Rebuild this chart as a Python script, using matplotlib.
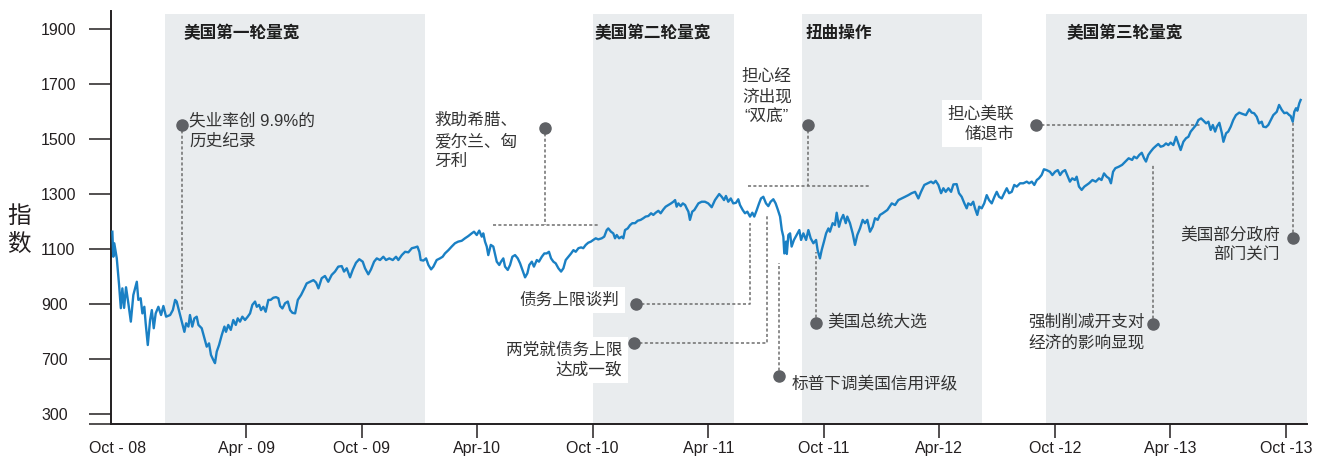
import numpy as np
import matplotlib.pyplot as plt

plt.rcParams['font.family'] = ['Liberation Sans', 'Noto Sans CJK SC']

##############################################
# Index level (x = months after Oct 2008)
months = [
    -0.94, -0.89, -0.84, -0.71, -0.59, -0.50, -0.42, -0.33, -0.23, -0.11, 0.02, 0.15, 0.33, 0.41, 0.53,
    0.62, 0.72, 0.79, 0.90, 1.02, 1.11, 1.21, 1.31, 1.45, 1.59, 1.71, 1.85, 2.06, 2.20, 2.32, 2.40,
    2.58, 2.69, 2.80, 2.89, 3.01, 3.09, 3.21, 3.32, 3.44, 3.53, 3.70, 3.82, 3.96, 4.08, 4.18, 4.30,
    4.39, 4.48, 4.60, 4.74, 4.88, 4.96, 5.08, 5.21, 5.34, 5.47, 5.57, 5.69, 5.81, 5.95, 6.09, 6.21,
    6.33, 6.47, 6.56, 6.68, 6.78, 6.90, 7.02, 7.16, 7.28, 7.42, 7.56, 7.68, 7.77, 7.89, 8.03, 8.17,
    8.29, 8.41, 8.55, 8.69, 8.86, 9.03,
    9.15, 9.33, 9.50, 9.64, 9.76, 9.93, 10.10, 10.27, 10.45, 10.62, 10.79, 10.97, 11.09, 11.23, 11.40,
    11.54, 11.71, 11.88, 12.06, 12.18, 12.35, 12.49, 12.65, 12.79, 12.96, 13.13, 13.27, 13.44, 13.62,
    13.79, 13.91, 14.09, 14.26, 14.43, 14.61, 14.78, 14.90, 15.00, 15.07, 15.21, 15.35, 15.47, 15.61,
    15.73, 15.90, 16.07, 16.21, 16.33, 16.51, 16.68, 16.85, 17.02, 17.20, 17.37, 17.54, 17.72, 17.84,
    17.98, 18.11, 18.24, 18.32, 18.41, 18.50, 18.58, 18.71, 18.84, 19.02, 19.15,
    19.24, 19.36, 19.45, 19.59, 19.71, 19.83, 19.97, 20.11, 20.23, 20.35, 20.49, 20.61, 20.71, 20.84,
    20.95, 21.10, 21.21, 21.36, 21.49, 21.61, 21.73, 21.84, 21.96, 22.08, 22.22, 22.36, 22.48, 22.60,
    22.74, 22.88, 23.00, 23.12, 23.26, 23.40, 23.51, 23.64, 23.77, 23.91, 24.03, 24.16, 24.29, 24.47,
    24.60, 24.73, 24.81, 24.95, 25.07, 25.16, 25.25, 25.37, 25.51, 25.59, 25.68, 25.82, 25.94, 26.06,
    26.20, 26.34, 26.49, 26.63, 26.75, 26.89, 27.03, 27.15, 27.27, 27.41, 27.53, 27.67, 27.79, 27.93,
    28.07, 28.19, 28.28, 28.36, 28.45, 28.57, 28.68, 28.80, 28.88, 28.97, 29.05, 29.17, 29.28,
    29.49, 29.66, 29.83, 30.00, 30.18, 30.35, 30.47, 30.57, 30.70, 30.82, 30.92, 31.04, 31.17, 31.30,
    31.44, 31.56, 31.65, 31.79, 31.91, 32.03, 32.17, 32.29, 32.39, 32.52, 32.64, 32.74, 32.86, 33.00,
    33.12, 33.24, 33.38, 33.50, 33.61, 33.73, 33.82, 33.90, 33.95, 34.04, 34.08, 34.16, 34.25, 34.33,
    34.45, 34.59, 34.73, 34.82, 34.94, 35.08, 35.20, 35.32, 35.46, 35.60, 35.68, 35.80, 35.89, 36.01,
    36.12, 36.24, 36.32, 36.46, 36.58, 36.67, 36.79, 36.89, 37.01, 37.14, 37.22, 37.36, 37.50, 37.62,
    37.74, 37.88, 38.02, 38.14, 38.26, 38.40, 38.54, 38.66, 38.80, 38.92, 39.06, 39.18, 39.30,
    39.53, 39.70, 39.87, 40.05, 40.22, 40.39, 40.56, 40.74, 40.91, 41.05, 41.22, 41.40, 41.57, 41.69,
    41.81, 41.95, 42.09, 42.21, 42.33, 42.47, 42.61, 42.73, 42.90, 43.02, 43.16, 43.30, 43.42, 43.50,
    43.64, 43.76, 43.85, 43.97, 44.07, 44.20, 44.33, 44.46, 44.58, 44.72, 44.86, 44.98, 45.10, 45.24,
    45.37, 45.50, 45.62, 45.76, 45.89, 46.02, 46.19, 46.36, 46.54, 46.66, 46.80, 46.93, 47.06, 47.17,
    47.31, 47.43, 47.57, 47.74, 47.87, 48.01, 48.15, 48.27, 48.39, 48.53, 48.67, 48.78, 48.90, 49.04,
    49.13, 49.25, 49.39, 49.53,
    49.77, 49.95, 50.12, 50.29, 50.42, 50.55, 50.69, 50.81, 50.91, 51.02, 51.14, 51.31, 51.49, 51.66,
    51.83, 52.01, 52.11, 52.25, 52.38, 52.51, 52.63, 52.73, 52.85, 52.97, 53.11, 53.25, 53.37, 53.49,
    53.63, 53.77, 53.89, 54.01, 54.15, 54.29, 54.41, 54.53, 54.67, 54.81, 54.93, 55.05, 55.19, 55.33,
    55.45, 55.59, 55.71, 55.85, 55.97, 56.09, 56.20, 56.32, 56.41, 56.54, 56.67, 56.75, 56.89, 57.00,
    57.13, 57.26, 57.40, 57.57, 57.75, 57.92, 58.09, 58.22, 58.34, 58.48, 58.60, 58.74, 58.82, 58.96,
    59.08, 59.21, 59.34, 59.52, 59.64, 59.78, 59.91, 60.04, 60.17, 60.24, 60.35, 60.43, 60.52, 60.59,
    60.69, 60.76,
]
index_level = [
    1164, 1073, 1122, 1067, 970, 886, 958, 887, 962, 904, 837, 934, 982, 916, 922,
    867, 891, 831, 752, 843, 879, 813, 867, 891, 861, 894, 855, 861, 879, 916, 910,
    861, 831, 800, 831, 819, 861, 819, 849, 855, 825, 813, 782, 746, 758, 716, 698,
    686, 728, 752, 788, 819, 800, 825, 807, 843, 825, 849, 837, 855, 843, 855, 867,
    898, 910, 891, 898, 879, 891, 873, 916, 916, 924, 926, 922, 894, 885, 904, 910,
    879, 869, 867, 916, 934, 958,
    976, 982, 988, 979, 958, 995, 1003, 982, 1007, 1019, 1037, 1039, 1019, 1031, 998,
    1025, 1051, 1064, 1055, 1031, 1009, 1027, 1055, 1067, 1061, 1073, 1061, 1067, 1061,
    1073, 1061, 1079, 1091, 1089, 1104, 1107, 1110, 1091, 1061, 1059, 1067, 1043, 1027,
    1037, 1061, 1067, 1073, 1085, 1097, 1110, 1122, 1128, 1131, 1140, 1148, 1158, 1164,
    1152, 1168, 1146, 1158, 1128, 1110, 1079, 1116, 1110, 1055, 1043,
    1055, 1067, 1037, 1025, 1043, 1073, 1079, 1067, 1049, 1025, 998, 1013, 1043, 1055,
    1037, 1061, 1055, 1073, 1085, 1085, 1091, 1067, 1055, 1049, 1031, 1019, 1031, 1061,
    1073, 1085, 1097, 1091, 1104, 1107, 1104, 1116, 1124, 1128, 1134, 1140, 1136, 1140,
    1146, 1170, 1176, 1164, 1158, 1140, 1152, 1140, 1146, 1140, 1170, 1176, 1188, 1195,
    1195, 1204, 1207, 1213, 1219, 1221, 1231, 1225, 1233, 1240, 1231, 1245, 1255, 1261,
    1267, 1273, 1279, 1255, 1267, 1257, 1267, 1261, 1249, 1237, 1207, 1237, 1243,
    1267, 1273, 1273, 1267, 1253, 1279, 1291, 1301, 1291, 1279, 1294, 1273, 1285, 1267,
    1269, 1282, 1261, 1243, 1231, 1237, 1219, 1233, 1219, 1243, 1267, 1285, 1291, 1267,
    1257, 1273, 1282, 1267, 1245, 1219, 1170, 1146, 1085, 1128, 1083, 1152, 1158, 1110,
    1134, 1152, 1170, 1134, 1158, 1134, 1170, 1140, 1122, 1134, 1097, 1067, 1097, 1128,
    1158, 1176, 1164, 1195, 1188, 1233, 1182, 1207, 1225, 1195, 1219, 1195, 1158, 1116,
    1152, 1176, 1207, 1195, 1207, 1164, 1182, 1213, 1207, 1225, 1231, 1237, 1243,
    1267, 1261, 1279, 1285, 1291, 1297, 1304, 1309, 1285, 1309, 1334, 1340, 1346, 1340,
    1349, 1334, 1304, 1322, 1309, 1322, 1309, 1336, 1337, 1304, 1291, 1267, 1249, 1267,
    1261, 1273, 1249, 1225, 1255, 1249, 1267, 1297, 1279, 1267, 1291, 1309, 1291, 1285,
    1304, 1322, 1304, 1309, 1334, 1328, 1340, 1340, 1346, 1340, 1346, 1334, 1352, 1358,
    1370, 1391, 1388, 1382, 1370, 1382, 1388, 1370, 1382, 1388, 1364, 1346, 1358, 1352,
    1364, 1328, 1316, 1328,
    1340, 1352, 1346, 1358, 1352, 1376, 1364, 1358, 1340, 1382, 1395, 1400, 1407, 1419,
    1431, 1425, 1437, 1431, 1443, 1451, 1431, 1419, 1443, 1455, 1467, 1476, 1483, 1473,
    1476, 1485, 1479, 1488, 1479, 1509, 1485, 1461, 1491, 1504, 1509, 1528, 1540, 1552,
    1570, 1576, 1568, 1558, 1564, 1534, 1552, 1528, 1546, 1560, 1522, 1491, 1522, 1528,
    1546, 1570, 1588, 1597, 1592, 1588, 1609, 1597, 1595, 1582, 1558, 1564, 1546, 1544,
    1552, 1570, 1588, 1600, 1625, 1607, 1595, 1597, 1588, 1585, 1564, 1600, 1613, 1604,
    1631, 1643,
]

tick_months = [-0.69, 6, 12, 18, 24, 30, 36, 42, 48, 54, 60]
tick_labels = ['Oct - 08', 'Apr - 09', 'Oct - 09', 'Apr-10', 'Oct -10', 'Apr -11',
               'Oct -11', 'Apr-12', 'Oct -12', 'Apr -13', 'Oct -13']
y_ticks = [500, 700, 900, 1100, 1300, 1500, 1700, 1900]
y_tick_labels = ['300', '700', '900', '1100', '1300', '1500', '1700', '1900']

# policy periods (shaded) and their titles
periods = [(1.80, 15.30), (24.02, 31.34), (34.87, 44.22), (47.54, 61.09)]
period_titles = ['美国第一轮量宽', '美国第二轮量宽', '扭曲操作', '美国第三轮量宽']
period_title_x = [2.73, 24.07, 35.03, 48.58]

# events: text, dot position, connector path, text position, alignment, white box
events = [
    ('失业率创 9.9%的\n历史纪录', (2.66, 1552), [(2.66, 879)], (3.05, 1530), 'left', 'left', False),
    ('救助希腊、\n爱尔兰、匈\n牙利', (21.53, 1541), [(21.53, 1188)], (15.8, 1494), 'left', 'left', False),
    ('担心经\n济出现\n“双底”', (35.18, 1552), [(35.18, 1330)], (31.75, 1654), 'left', 'center', False),
    ('债务上限谈判', (26.26, 901), [(32.17, 901), (32.17, 1196)], (25.37, 916), 'right', 'right', True),
    ('两党就债务上限\n达成一致', (26.15, 759), [(33.05, 759), (33.05, 1225)], (25.53, 697), 'right', 'right', True),
    ('标普下调美国信用评级', (33.68, 639), [(33.68, 1050)], (34.35, 610), 'left', 'left', False),
    ('美国总统大选', (35.60, 832), [(35.60, 1090)], (36.17, 836), 'left', 'left', False),
    ('担心美联\n储退市', (47.02, 1552), [(55.54, 1552)], (45.88, 1557), 'right', 'right', True),
    ('强制削减开支对\n经济的影响显现', (53.09, 828), [(53.09, 1407)], (46.61, 799), 'left', 'left', False),
    ('美国部分政府\n部门关门', (60.36, 1141), [(60.36, 1563)], (59.69, 1118), 'right', 'right', False),
]
# horizontal dashed brackets: x0, x1, y
brackets = [(18.83, 24.29, 1188), (32.07, 38.40, 1330)]

shade_color = '#e9ecee'
line_color = '#1a80c4'
dash_color = '#6e6e6e'
dot_color = '#5f6165'
text_color = '#333333'
axis_color = '#231f20'

y_bottom, y_top = 464.8, 1966.5

fig = plt.figure(figsize=(13.27, 4.57), dpi=100)
ax = fig.add_axes([111 / 1327, 33 / 457, 1196 / 1327, 413 / 457])

for (x0, x1), title, tx in zip(periods, period_titles, period_title_x):
    ax.axvspan(x0, x1, ymax=0.9925, color=shade_color, lw=0, zorder=0)
    ax.text(tx, 1886, title, fontsize=12, fontweight='bold', color='#1e1e1e',
            ha='left', va='center', zorder=6)

ax.plot(months, index_level, color=line_color, lw=1.7, zorder=4)

for x0, x1, yb in brackets:
    ax.plot([x0, x1], [yb, yb], color=dash_color, lw=1.1, ls=(0, (2, 1.5)), zorder=3)

for text, dot, path, pos, ha, ma, box in events:
    xs = [dot[0]] + [p[0] for p in path]
    ys = [dot[1]] + [p[1] for p in path]
    ax.plot(xs, ys, color=dash_color, lw=1.1, ls=(0, (2, 1.5)), zorder=3)
    ax.plot(dot[0], dot[1], 'o', ms=8, color=dot_color, zorder=5)
    bbox = dict(facecolor='white', edgecolor='none', pad=4) if box else None
    ax.text(pos[0], pos[1], text, ha=ha, va='center', multialignment=ma, fontsize=12,
            color=text_color, linespacing=1.4, bbox=bbox, zorder=6)

ax.set_xlim(-1.01, 61.09)
ax.set_ylim(y_bottom, y_top)

ax.set_xticks(tick_months)
ax.set_xticklabels(tick_labels)
ax.set_yticks(y_ticks)
ax.set_yticklabels(y_tick_labels)
ax.set_yticks([y_bottom], minor=True)

ax.tick_params(axis='x', length=10, width=1.1, pad=2, labelsize=11.5, colors=axis_color)
ax.tick_params(axis='y', which='both', length=15.8, width=1.1, pad=34.6, labelsize=11.5,
               colors=axis_color)
for lbl in ax.get_yticklabels():
    lbl.set_ha('left')
ax.xaxis.get_major_ticks()[0].tick1line.set_visible(False)

for side in ['top', 'right']:
    ax.spines[side].set_visible(False)
for side in ['left', 'bottom']:
    ax.spines[side].set_linewidth(1.4)
    ax.spines[side].set_color(axis_color)

ax.set_ylabel('指\n数', rotation=0, fontsize=17, linespacing=1.35, ha='center', va='center',
              color=axis_color)
ax.yaxis.set_label_coords(-0.077, 0.467)

fig.savefig('out.png', dpi=100)
